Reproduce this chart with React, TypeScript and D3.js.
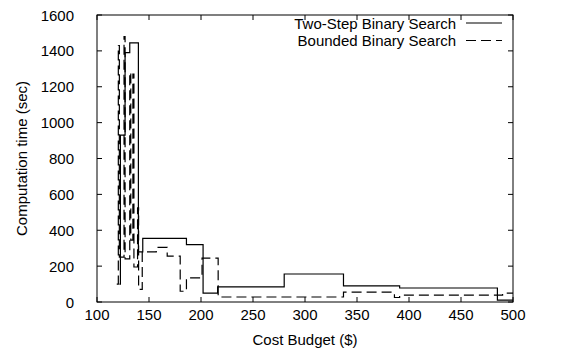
import React, { useMemo } from "react";
import * as d3 from "d3";

// Two-Step Binary Search: budget ($) breakpoints and computation time (sec)
const twoStepBudget = [121.5, 122.5, 127, 131.5, 139.8, 144, 186, 202, 216, 280, 337, 391, 485, 500];
const twoStepTime = [100, 930, 1390, 1445, 280, 355, 320, 50, 84, 156, 90, 78, 10, 10];

// Bounded Binary Search
const boundedBudget = [119, 120.5, 121.5, 126, 127, 131.5, 132.5, 134.5, 135.5, 139, 140, 143.5, 157, 167.5, 180, 186, 201, 216.5, 337, 386, 391, 490, 500];
const boundedTime = [100, 1430, 250, 1480, 240, 1280, 345, 1270, 195, 525, 70, 280, 305, 256, 60, 135, 245, 28, 55, 25, 38, 50, 50];

const xTicks = [100, 150, 200, 250, 300, 350, 400, 450, 500];
const yTicks = [0, 200, 400, 600, 800, 1000, 1200, 1400, 1600];

const seriesNames = ["Two-Step Binary Search", "Bounded Binary Search"];

const W = 569;
const H = 356;
const M = { left: 97, right: 513, top: 15, bottom: 302 };
const FONT = "'Liberation Sans', Arial, Helvetica, sans-serif";
const FS = 15;
const DASH = "10,5";

export default function App() {
  const x = useMemo(() => d3.scaleLinear().domain([100, 500]).range([M.left, M.right]), []);
  const y = useMemo(() => d3.scaleLinear().domain([0, 1600]).range([M.bottom, M.top]), []);

  const line = d3
    .line<[number, number]>()
    .x((d) => x(d[0]))
    .y((d) => y(d[1]))
    .curve(d3.curveStepAfter);

  const twoStep = line(twoStepBudget.map((b, i) => [b, twoStepTime[i]]) as [number, number][]) || "";
  const bounded = line(boundedBudget.map((b, i) => [b, boundedTime[i]]) as [number, number][]) || "";

  const tickLen = 5;

  return (
    <svg
      width={W}
      height={H}
      style={{ position: "absolute", left: 0, top: 0, background: "#fff" }}
      fontFamily={FONT}
    >
      <rect x={0} y={0} width={W} height={H} fill="#fff" />
      <defs>
        <clipPath id="plot-clip">
          <rect x={M.left} y={M.top} width={M.right - M.left} height={M.bottom - M.top} />
        </clipPath>
      </defs>

      {/* ticks, mirrored on all four sides */}
      {xTicks.map((t) => (
        <g key={"x" + t}>
          <line x1={x(t)} x2={x(t)} y1={M.bottom} y2={M.bottom - tickLen} stroke="#000" />
          <line x1={x(t)} x2={x(t)} y1={M.top} y2={M.top + tickLen} stroke="#000" />
          <text x={x(t)} y={319.5} fontSize={FS} textAnchor="middle" fill="#000">
            {t}
          </text>
        </g>
      ))}
      {yTicks.map((t) => (
        <g key={"y" + t}>
          <line x1={M.left} x2={M.left + tickLen} y1={y(t)} y2={y(t)} stroke="#000" />
          <line x1={M.right} x2={M.right - tickLen} y1={y(t)} y2={y(t)} stroke="#000" />
          <text x={74} y={y(t) + 5.5} fontSize={FS} textAnchor="end" fill="#000">
            {t}
          </text>
        </g>
      ))}

      <g clipPath="url(#plot-clip)" fill="none">
        <path d={twoStep} stroke="#000" strokeWidth={1.2} />
        <path d={bounded} stroke="#000" strokeWidth={1.2} strokeDasharray={DASH} />
      </g>

      {/* frame */}
      <rect
        x={M.left}
        y={M.top}
        width={M.right - M.left}
        height={M.bottom - M.top}
        fill="none"
        stroke="#000"
        strokeWidth={1}
      />

      {/* legend */}
      <text x={456} y={28.5} fontSize={FS} textAnchor="end" fill="#000">
        {seriesNames[0]}
      </text>
      <line x1={466} x2={502} y1={23} y2={23} stroke="#000" strokeWidth={1.2} />
      <text x={456} y={46} fontSize={FS} textAnchor="end" fill="#000">
        {seriesNames[1]}
      </text>
      <line x1={466} x2={502} y1={40.5} y2={40.5} stroke="#000" strokeWidth={1.2} strokeDasharray={DASH} />

      {/* axis titles */}
      <text x={(M.left + M.right) / 2} y={344.5} fontSize={FS} textAnchor="middle" fill="#000">
        Cost Budget ($)
      </text>
      <text
        transform={`translate(27, ${(M.top + M.bottom) / 2}) rotate(-90)`}
        fontSize={FS}
        textAnchor="middle"
        fill="#000"
      >
        Computation time (sec)
      </text>
    </svg>
  );
}
